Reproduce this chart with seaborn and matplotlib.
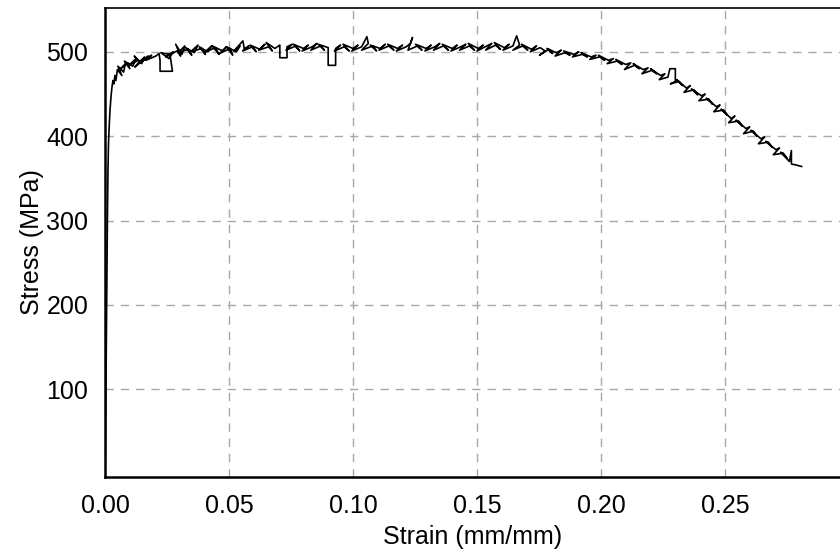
import numpy as np
import pandas as pd
import matplotlib
matplotlib.use("Agg")
import matplotlib.pyplot as plt
import seaborn as sns

# elastic part
elastic_strain = [0.0000, 0.0002, 0.0004, 0.0006, 0.0008, 0.0010, 0.0012, 0.0014, 0.0017, 0.0020,
                  0.0024, 0.0028, 0.0032, 0.0036, 0.0040, 0.0044]
elastic_stress = [2, 40, 110, 180, 250, 310, 360, 390, 412, 430,
                  446, 458, 466, 462, 472, 466]

# yielding / hardening
hardening_strain = [0.0050, 0.0068, 0.0052, 0.0075, 0.0082, 0.0060, 0.0092, 0.0100, 0.0078, 0.0112,
                    0.0125, 0.0100, 0.0135, 0.0118, 0.0148, 0.0160, 0.0138, 0.0120, 0.0175, 0.0150,
                    0.0188, 0.0165, 0.0205, 0.0218, 0.0222, 0.0222, 0.0272, 0.0262, 0.0225, 0.0258,
                    0.0275, 0.0245, 0.0290, 0.0305, 0.0285, 0.0310, 0.0322, 0.0295, 0.0335, 0.0350,
                    0.0325, 0.0360, 0.0375, 0.0345, 0.0390, 0.0405, 0.0380, 0.0415, 0.0430, 0.0400,
                    0.0445, 0.0460, 0.0432, 0.0475, 0.0490, 0.0462, 0.0505, 0.0515, 0.0490, 0.0530]
hardening_stress = [479, 472, 483, 476, 486, 479, 487, 480, 489, 483,
                    492, 485, 490, 495, 486, 494, 488, 482, 495, 489,
                    496, 490, 495, 498, 490, 477, 477, 497, 499, 492,
                    500, 494, 501, 495, 509, 497, 507, 499, 503, 496,
                    505, 499, 508, 500, 504, 497, 506, 500, 507, 499,
                    505, 497, 507, 501, 506, 498, 504, 496, 506, 500]

# plateau
plateau_strain = [0.0545, 0.0520, 0.0556, 0.0562, 0.0580, 0.0555, 0.0595, 0.0610, 0.0585, 0.0625,
                  0.0645, 0.0620, 0.0660, 0.0675, 0.0650, 0.0685, 0.0705, 0.0705, 0.0734, 0.0734,
                  0.0755, 0.0730, 0.0770, 0.0785, 0.0760, 0.0800, 0.0820, 0.0795, 0.0835, 0.0855,
                  0.0830, 0.0870, 0.0885, 0.0860, 0.0900, 0.0900, 0.0930, 0.0930, 0.0950, 0.0925,
                  0.0965, 0.0985, 0.0960, 0.1000, 0.1020, 0.0995, 0.1035, 0.1056, 0.1062, 0.1035,
                  0.1080, 0.1095, 0.1070, 0.1110, 0.1130, 0.1105, 0.1145, 0.1165, 0.1140, 0.1180,
                  0.1200, 0.1175, 0.1215, 0.1232, 0.1240, 0.1222, 0.1260, 0.1278, 0.1252, 0.1295,
                  0.1315, 0.1290, 0.1330, 0.1350, 0.1325, 0.1365, 0.1385, 0.1360, 0.1400, 0.1420,
                  0.1395, 0.1435, 0.1455, 0.1430, 0.1470, 0.1490, 0.1465, 0.1505, 0.1525, 0.1500,
                  0.1540, 0.1560, 0.1535, 0.1575, 0.1595, 0.1570, 0.1610, 0.1630, 0.1605, 0.1645,
                  0.1660, 0.1672, 0.1645, 0.1685, 0.1705, 0.1680, 0.1720, 0.1740, 0.1715, 0.1755]
plateau_stress = [507, 501, 513, 503, 507, 501, 506, 500, 508, 503,
                  509, 502, 506, 501, 511, 504, 508, 493, 493, 506,
                  509, 502, 507, 501, 509, 504, 508, 501, 506, 510,
                  502, 507, 502, 509, 505, 484, 484, 504, 508, 501,
                  506, 501, 509, 504, 508, 501, 506, 518, 510, 502,
                  507, 501, 508, 504, 509, 502, 507, 502, 509, 504,
                  508, 501, 506, 510, 517, 502, 507, 502, 509, 504,
                  508, 501, 506, 510, 502, 507, 502, 509, 504, 508,
                  501, 506, 509, 502, 507, 502, 510, 504, 508, 501,
                  507, 510, 502, 508, 503, 511, 505, 509, 502, 507,
                  519, 508, 502, 507, 502, 509, 503, 507, 500, 505]

# necking / softening
necking_strain = [0.1775, 0.1752, 0.1790, 0.1805, 0.1782, 0.1820, 0.1840, 0.1815, 0.1855, 0.1875,
                  0.1850, 0.1890, 0.1910, 0.1885, 0.1925, 0.1945, 0.1920, 0.1960, 0.1980, 0.1955,
                  0.1995, 0.2015, 0.1990, 0.2030, 0.2050, 0.2025, 0.2065, 0.2085, 0.2060, 0.2100,
                  0.2120, 0.2095, 0.2135, 0.2155, 0.2130, 0.2170, 0.2190, 0.2165, 0.2205, 0.2225,
                  0.2200, 0.2240, 0.2258, 0.2235, 0.2270, 0.2278, 0.2300, 0.2300, 0.2280, 0.2315,
                  0.2330, 0.2305, 0.2345, 0.2360, 0.2335, 0.2375, 0.2390, 0.2365, 0.2405, 0.2420,
                  0.2395, 0.2435, 0.2450, 0.2425, 0.2465, 0.2480, 0.2455, 0.2495, 0.2510, 0.2485,
                  0.2525, 0.2540, 0.2515, 0.2555, 0.2570, 0.2545, 0.2585, 0.2600, 0.2575, 0.2615,
                  0.2630, 0.2605, 0.2645, 0.2660, 0.2635, 0.2675, 0.2690, 0.2665, 0.2705, 0.2720,
                  0.2695, 0.2735, 0.2750, 0.2725, 0.2760, 0.2768, 0.2768, 0.2785, 0.2810]
necking_stress = [501, 496, 503, 498, 504, 499, 502, 495, 499, 496,
                  501, 497, 500, 494, 497, 494, 499, 494, 496, 491,
                  494, 490, 496, 490, 492, 486, 489, 485, 491, 485,
                  487, 479, 484, 480, 486, 479, 481, 474, 478, 474,
                  480, 472, 474, 467, 470, 480, 480, 465, 462, 465,
                  460, 467, 457, 460, 452, 455, 449, 456, 448, 450,
                  442, 444, 438, 445, 435, 437, 429, 431, 425, 432,
                  421, 424, 416, 418, 412, 419, 409, 411, 403, 406,
                  400, 407, 397, 399, 391, 393, 387, 394, 384, 386,
                  378, 380, 374, 381, 370, 383, 367, 366, 364]

x_ticks = [0.00, 0.05, 0.10, 0.15, 0.20, 0.25]
x_tick_labels = ["0.00", "0.05", "0.10", "0.15", "0.20", "0.25"]
y_ticks = [100, 200, 300, 400, 500]


def main():
    df = pd.DataFrame({
        "strain": elastic_strain + hardening_strain + plateau_strain + necking_strain,
        "stress": elastic_stress + hardening_stress + plateau_stress + necking_stress,
    })

    sns.set_style("white")
    plt.rcParams["font.family"] = ["Liberation Sans", "DejaVu Sans"]

    fig = plt.figure(figsize=(8.4, 5.58), dpi=100)
    ax = fig.add_axes([0.125, 0.1452, 0.875, 0.8405])

    sns.lineplot(data=df, x="strain", y="stress", sort=False, estimator=None,
                 color="black", linewidth=1.2, ax=ax)

    ax.set_xlim(0, 0.2964)
    ax.set_ylim(-4, 552)
    ax.set_xticks(x_ticks)
    ax.set_xticklabels(x_tick_labels)
    ax.set_yticks(y_ticks)

    ax.grid(True, color="#a8a8a8", linestyle=(0, (6, 5)), linewidth=1.0)
    ax.set_axisbelow(True)

    for side in ["left", "bottom"]:
        ax.spines[side].set_linewidth(1.8)
        ax.spines[side].set_color("black")
    ax.spines["top"].set_linewidth(1.2)
    ax.spines["top"].set_color("black")
    ax.spines["right"].set_visible(False)

    ax.tick_params(axis="both", direction="in", length=4, width=1, labelsize=18,
                   colors="black")
    ax.tick_params(axis="y", pad=12)
    ax.tick_params(axis="x", pad=12)

    ax.set_xlabel("Strain (mm/mm)", fontsize=18, labelpad=5, color="black")
    ax.set_ylabel("Stress (MPa)", fontsize=18, labelpad=2, color="black")

    fig.savefig("out.png", dpi=100)
    plt.close(fig)


if __name__ == "__main__":
    main()
